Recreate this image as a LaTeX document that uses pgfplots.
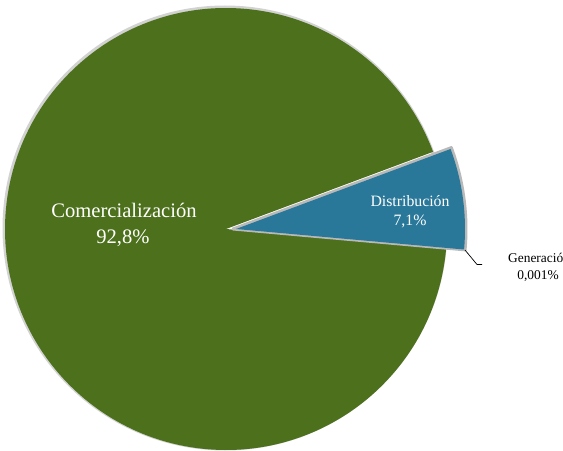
\documentclass[border=0pt]{standalone}
\usepackage{fontspec}
\setmainfont{Liberation Serif}
\usepackage{pgfplots}
\usepackage{pgfplotstable}
\pgfplotsset{compat=1.18}
\definecolor{comgreen}{RGB}{76,112,27}
\definecolor{distblue}{RGB}{41,120,153}
\pgfplotstableread[col sep=comma]{
segment,value
Distribucion,7.1
Generacion,0.001
Comercializacion,92.8
}\piedata
\begin{document}%
\begin{tikzpicture}
\pgfplotstablegetelem{0}{value}\of\piedata\let\vdist\pgfplotsretval
\pgfplotstablegetelem{1}{value}\of\piedata\let\vgen\pgfplotsretval
\pgfplotstablegetelem{2}{value}\of\piedata\let\vcom\pgfplotsretval
\pgfmathsetmacro\total{\vdist+\vgen+\vcom}
\pgfmathsetmacro\fdist{\vdist/\total}
\pgfmathsetmacro\fgen{\vgen/\total}
\pgfmathsetmacro\fcom{\vcom/\total}
\pgfmathsetmacro\startang{20.45}
\pgfmathsetmacro\distend{\startang-360*\fdist}
\pgfmathsetmacro\genend{\distend-360*\fgen}
\pgfmathsetmacro\comend{\genend-360*\fcom}
\begin{axis}[
  name=ax,
  scale only axis,
  width=563bp, height=451bp,
  xmin=0, xmax=563, ymin=0, ymax=451,
  y dir=reverse,
  hide axis,
]
% shadow of the pie
\draw[gray!35, line width=3bp] (axis cs:225,228) circle[radius=221bp];
% Comercializacion
\fill[comgreen] (axis cs:226,229) -- ++(\genend:221bp)
  arc[start angle=\genend, end angle=\comend, radius=221bp] -- cycle;
% Distribucion (exploded)
\filldraw[fill=distblue, draw=gray!55, line width=3bp, line join=round]
  (axis cs:233,229) -- ++(\startang:233bp)
  arc[start angle=\startang, end angle=\distend, radius=233bp] -- cycle;
\fill[distblue] (axis cs:236,229) -- ++(\startang:229bp)
  arc[start angle=\startang, end angle=\distend, radius=229bp] -- cycle;
% leader line for Generacion
\draw[black, line width=0.7bp] (axis cs:465,250) -- (axis cs:477,264.5) -- (axis cs:482,264.5);
% labels
\node[white, anchor=base, inner sep=0pt, font=\fontsize{20.6bp}{24bp}\selectfont] at (axis cs:124,217) {Comercialización};
\node[white, anchor=base, inner sep=0pt, font=\fontsize{20.6bp}{24bp}\selectfont] at (axis cs:123,243) {92,8\%};
\node[white, anchor=base, inner sep=0pt, font=\fontsize{15.8bp}{18bp}\selectfont] at (axis cs:410,206) {Distribución};
\node[white, anchor=base, inner sep=0pt, font=\fontsize{15.8bp}{18bp}\selectfont] at (axis cs:410,225) {7,1\%};
\node[black, anchor=base west, inner sep=0pt, font=\fontsize{13.4bp}{16bp}\selectfont] at (axis cs:508,262.3) {Generació};
\node[black, anchor=base, inner sep=0pt, font=\fontsize{13.4bp}{16bp}\selectfont] at (axis cs:538,279.3) {0,001\%};
\end{axis}
\pgfresetboundingbox
\path[use as bounding box] (ax.south west) rectangle (ax.north east);
\end{tikzpicture}%
\end{document}
